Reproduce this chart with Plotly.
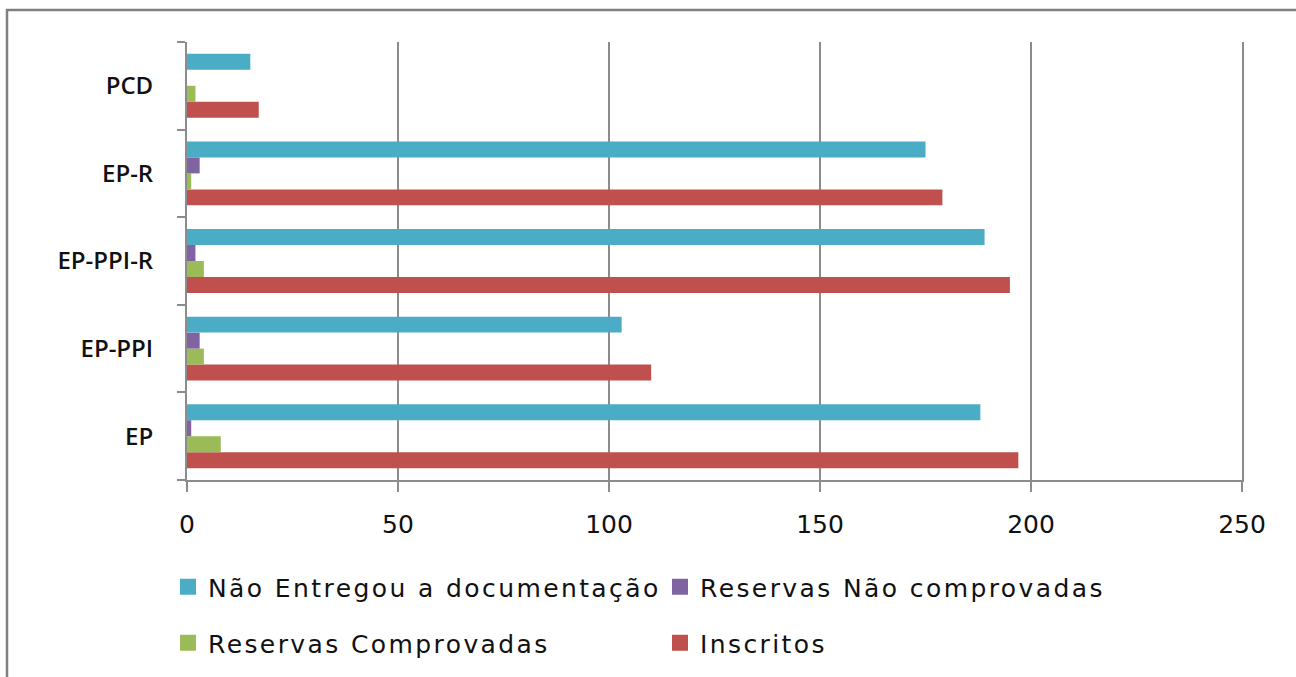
import plotly.graph_objects as go

# Categories, bottom to top
categories = ["EP", "EP-PPI", "EP-PPI-R", "EP-R", "PCD"]

# Series values per category
nao_entregou = [188, 103, 189, 175, 15]
reservas_nao_comprovadas = [1, 3, 2, 3, 0]
reservas_comprovadas = [8, 4, 4, 1, 2]
inscritos = [197, 110, 195, 179, 17]

x_ticks = [0, 50, 100, 150, 200, 250]

W, H = 1296, 677
L, R, T, B = 187, 1242, 42, 480

fig = go.Figure()

# Traces added bottom-to-top within each group
series = [
    ("Inscritos", inscritos, "#C0504D", "legend2"),
    ("Reservas Comprovadas", reservas_comprovadas, "#9BBB59", "legend2"),
    ("Reservas Não comprovadas", reservas_nao_comprovadas, "#8064A2", "legend"),
    ("Não Entregou a documentação", nao_entregou, "#4BACC6", "legend"),
]
for name, vals, color, leg in series:
    fig.add_trace(go.Bar(
        y=categories, x=vals, name=name, orientation="h",
        marker=dict(color=color, line=dict(width=0)),
        legendgroup=name, showlegend=False,
    ))
    # legend entry with a larger square swatch
    fig.add_trace(go.Scatter(
        x=[None], y=[None], mode="markers", name=name,
        marker=dict(symbol="square", size=16, color=color),
        legendgroup=name, legend=leg, hoverinfo="skip",
    ))

grid_color = "#8C8C8C"
text_color = "#111111"

legend_common = dict(
    orientation="h", traceorder="reversed",
    xref="container", yref="container",
    xanchor="left", yanchor="middle",
    entrywidth=447, entrywidthmode="pixels",
    itemwidth=30, itemsizing="trace",
    font=dict(family="DejaVu Sans", size=25, color=text_color),
    bgcolor="rgba(0,0,0,0)", itemclick=False, itemdoubleclick=False,
)

fig.update_layout(
    width=W, height=H,
    margin=dict(l=L, r=W - R, t=T, b=H - B),
    paper_bgcolor="white", plot_bgcolor="white",
    barmode="group", bargap=0.27, bargroupgap=0,
    showlegend=True,
    xaxis=dict(
        range=[0, 250], tickvals=x_ticks, ticktext=[str(v) for v in x_ticks],
        showgrid=True, gridcolor=grid_color, gridwidth=2,
        showline=True, linecolor=grid_color, linewidth=2,
        ticks="outside", ticklen=10, tickcolor=grid_color, tickwidth=2,
        ticklabelstandoff=11,
        tickfont=dict(family="DejaVu Sans", size=25, color=text_color),
        zeroline=False, fixedrange=True,
    ),
    yaxis=dict(
        categoryorder="array", categoryarray=categories,
        showgrid=False,
        showline=True, linecolor=grid_color, linewidth=2, mirror=True,
        ticks="outside", ticklen=8, tickcolor=grid_color, tickwidth=2,
        tickson="boundaries", ticklabelstandoff=27,
        tickfont=dict(family="Open Sans", size=24, color=text_color, weight=600),
        fixedrange=True,
    ),
    legend=dict(legend_common, x=168 / W, y=1 - 587 / H),
    legend2=dict(legend_common, x=168 / W, y=1 - 643 / H),
)

# Outer chart frame
pw, ph = R - L, B - T
fig.add_shape(
    type="rect", xref="paper", yref="paper",
    x0=(7 - L) / pw, x1=(W + 20 - L) / pw,
    y0=(B - (H + 20)) / ph, y1=(B - 10) / ph,
    line=dict(color="#808080", width=2.5), fillcolor="rgba(0,0,0,0)",
    layer="below",
)

# Slightly wider tracking on legend labels (stylesheet rule, so redraws keep it)
spacing_js = (
    "var s=document.createElement('style');"
    "s.textContent='.legendtext,.legend2text{letter-spacing:2.4px;}';"
    "document.head.appendChild(s);"
)

fig.write_html("out.html", post_script=spacing_js)
